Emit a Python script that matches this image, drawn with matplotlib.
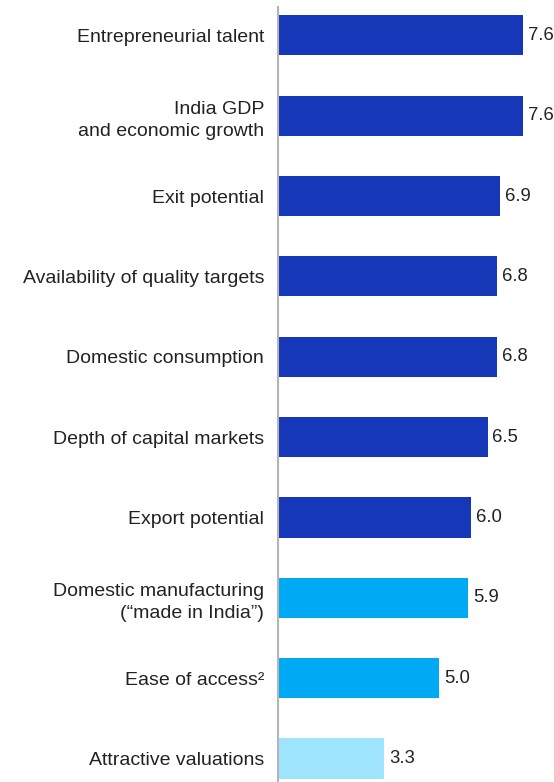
import matplotlib
matplotlib.use("Agg")
import matplotlib.pyplot as plt

plt.rcParams['font.family'] = ['Liberation Sans', 'DejaVu Sans']

factors = [
    "Entrepreneurial talent",
    "India GDP\nand economic growth",
    "Exit potential",
    "Availability of quality targets",
    "Domestic consumption",
    "Depth of capital markets",
    "Export potential",
    "Domestic manufacturing\n(\u201cmade in India\u201d)",
    "Ease of access\u00b2",
    "Attractive valuations",
]
scores = [7.6, 7.6, 6.9, 6.8, 6.8, 6.5, 6.0, 5.9, 5.0, 3.3]
# tier of each factor: 0 = strongest, 2 = weakest
tiers = [0, 0, 0, 0, 0, 0, 0, 1, 1, 2]
tier_colors = ['#1637b7', '#00a9f4', '#9de4fc']

W, H = 554, 782
fig = plt.figure(figsize=(W / 100, H / 100), dpi=100)
ax = fig.add_axes([278 / W, 0, 276 / W, 775 / H])

ypos = list(range(len(factors)))
colors = [tier_colors[t] for t in tiers]
ax.barh(ypos, scores, height=0.5, color=colors, zorder=2)

for y, v in zip(ypos, scores):
    ax.annotate(f"{v:.1f}", (v, y), xytext=(3.5, 0), textcoords='offset points',
                va='center', ha='left', fontsize=13.3, color='#222222')

ax.set_xlim(0, 276 / 32.24)
ax.set_ylim(9.292, -0.352)
ax.set_yticks(ypos)
ax.set_yticklabels(factors, fontsize=14, color='#222222', linespacing=1.4)
ax.tick_params(axis='y', length=0, pad=10)
ax.set_xticks([])

for s in ['top', 'right', 'bottom']:
    ax.spines[s].set_visible(False)
ax.spines['left'].set_color('#b5b5b5')
ax.spines['left'].set_linewidth(1.5)

fig.savefig("out.png", dpi=100)
